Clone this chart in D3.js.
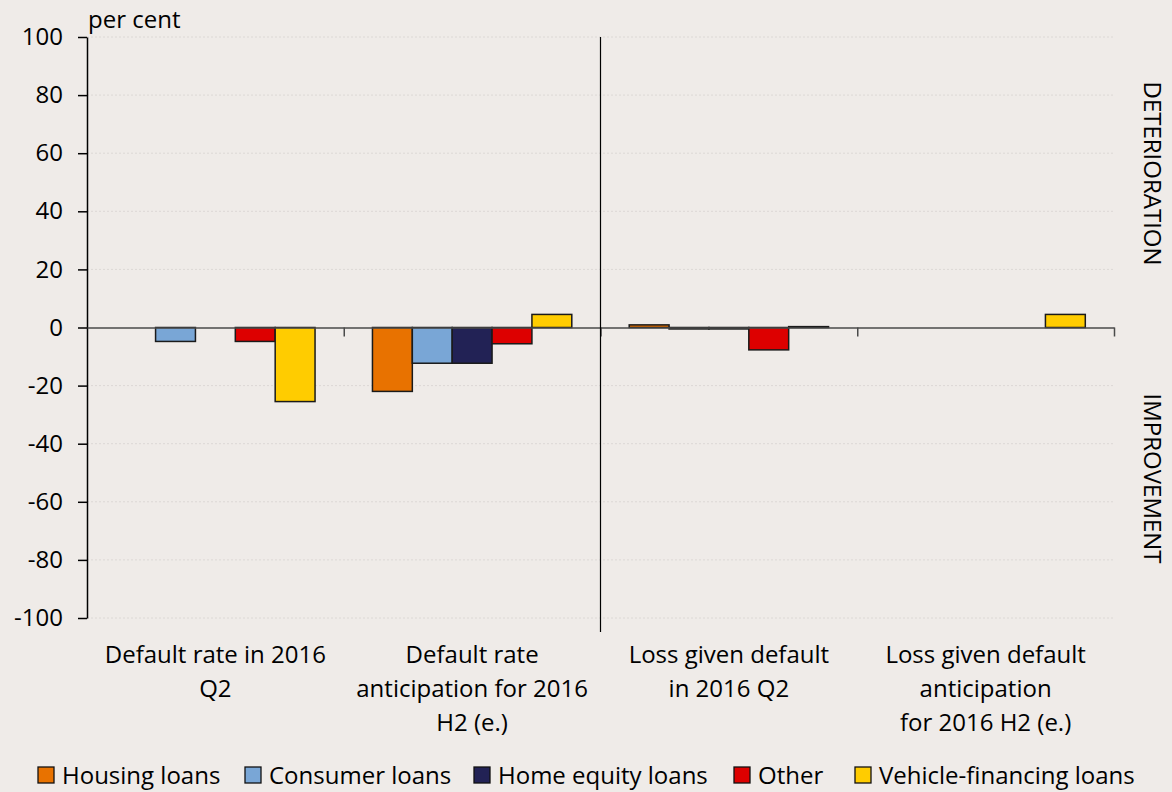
<!DOCTYPE html>
<html>
<head>
<meta charset="utf-8">
<script src="https://cdn.jsdelivr.net/npm/d3@7"></script>
<style>
  html, body { margin: 0; padding: 0; background: #efebe8; }
  svg { display: block; font-family: "Open Sans", "Noto Sans", sans-serif; }
</style>
</head>
<body>
<svg id="chart" width="1172" height="792"></svg>
<script>
// Survey categories (x axis groups)
const categories = [
  ["Default rate in 2016", "Q2"],
  ["Default rate", "anticipation for 2016", "H2 (e.)"],
  ["Loss given default", "in 2016 Q2"],
  ["Loss given default", "anticipation", "for 2016 H2 (e.)"]
];
const seriesNames = ["Housing loans", "Consumer loans", "Home equity loans", "Other", "Vehicle-financing loans"];
const seriesColors = ["#e87200", "#79a6d6", "#222255", "#dd0000", "#ffcc00"];

// Net percentage per series, one value per category
const housing   = [0, -22, 0.9, 0];
const consumer  = [-4.8, -12.3, -0.5, 0];
const homeEq    = [0, -12.3, -0.5, 0];
const other     = [-4.8, -5.6, -7.7, 0];
const vehicle   = [-25.5, 4.5, 0.3, 4.5];
const seriesValues = [housing, consumer, homeEq, other, vehicle];

const yTicks = [-100, -80, -60, -40, -20, 0, 20, 40, 60, 80, 100];

const FONT = 24;
const svg = d3.select("#chart");
const plotL = 87, plotR = 1114, plotT = 37, plotB = 618;

const y = d3.scaleLinear().domain([-100, 100]).range([plotB, plotT]);
const x0 = d3.scaleBand().domain(d3.range(categories.length)).range([plotL, plotR]).paddingInner(0).paddingOuter(0);
const x1 = d3.scaleBand().domain(d3.range(seriesNames.length)).range([0, x0.bandwidth()]).paddingInner(0).paddingOuter(0.72);

// gridlines
svg.append("g")
  .selectAll("line")
  .data(yTicks.filter(d => d !== 0))
  .join("line")
  .attr("x1", plotL).attr("x2", plotR)
  .attr("y1", d => y(d)).attr("y2", d => y(d))
  .attr("stroke", "#dcd8d5").attr("stroke-width", 1)
  .attr("stroke-dasharray", "2,2");

// y axis
const yAxis = svg.append("g")
  .attr("transform", `translate(${plotL},0)`)
  .call(d3.axisLeft(y).tickValues(yTicks).tickSize(9).tickSizeOuter(0).tickPadding(15)
    .tickFormat(d => String(d)));
yAxis.select(".domain").attr("stroke", "#000").attr("stroke-width", 1.5);
yAxis.selectAll(".tick line").attr("stroke", "#000").attr("stroke-width", 1.5);
yAxis.selectAll(".tick text").attr("font-size", FONT).attr("fill", "#000")
  .attr("font-family", "'Open Sans', sans-serif");

// bars
const groups = svg.append("g").selectAll("g")
  .data(categories.map((c, i) => i))
  .join("g")
  .attr("transform", i => `translate(${x0(i)},0)`);

groups.selectAll("rect")
  .data(i => seriesValues.map((vals, s) => ({ s, v: vals[i] })).filter(d => d.v !== 0))
  .join("rect")
  .attr("x", d => x1(d.s))
  .attr("width", x1.bandwidth())
  .attr("y", d => y(Math.max(0, d.v)))
  .attr("height", d => Math.abs(y(d.v) - y(0)))
  .attr("fill", d => seriesColors[d.s])
  .attr("stroke", "#1a1a1a")
  .attr("stroke-width", 1.5);

// zero line (x axis)
const xAxis = svg.append("g")
  .attr("transform", `translate(0,${y(0)})`)
  .call(d3.axisBottom(d3.scaleLinear().domain([0, categories.length]).range([plotL, plotR]))
    .ticks(categories.length).tickSize(9).tickFormat("").tickSizeOuter(0));
xAxis.select(".domain").attr("stroke", "#4a4a4a").attr("stroke-width", 1.5);
xAxis.selectAll(".tick line").attr("stroke", "#4a4a4a").attr("stroke-width", 1.5);
xAxis.selectAll(".tick").filter(d => d === 0).remove();

// divider between default-rate and LGD panels
svg.append("line")
  .attr("x1", x0(2)).attr("x2", x0(2))
  .attr("y1", plotT).attr("y2", 632)
  .attr("stroke", "#000").attr("stroke-width", 1.2);

// category labels
const labels = svg.append("g");
categories.forEach((lines, i) => {
  const cx = x0(i) + x0.bandwidth() / 2;
  const t = labels.append("text")
    .attr("x", cx)
    .attr("y", 663)
    .attr("text-anchor", "middle")
    .attr("font-size", FONT)
    .attr("fill", "#000");
  lines.forEach((ln, k) => {
    t.append("tspan").attr("x", cx).attr("dy", k === 0 ? 0 : 34).text(ln);
  });
});

// unit label
svg.append("text").attr("x", 88).attr("y", 28)
  .attr("font-size", FONT).attr("fill", "#000").text("per cent");

// side annotations
[["DETERIORATION", y(53)], ["IMPROVEMENT", y(-52)]].forEach(([txt, cy]) => {
  svg.append("text")
    .attr("transform", `translate(1144,${cy}) rotate(90)`)
    .attr("text-anchor", "middle")
    .attr("font-size", FONT)
    .attr("fill", "#000")
    .text(txt);
});

// legend
const legendX = [38, 245, 474, 734, 855];
const legend = svg.append("g");
seriesNames.forEach((name, s) => {
  const g = legend.append("g").attr("transform", `translate(${legendX[s]},775)`);
  g.append("rect").attr("x", 0).attr("y", -8).attr("width", 16).attr("height", 16)
    .attr("fill", seriesColors[s]).attr("stroke", "#111").attr("stroke-width", 1.3);
  g.append("text").attr("x", 24).attr("y", 8.5).attr("font-size", FONT).attr("fill", "#000").text(name);
});
</script>
</body>
</html>
